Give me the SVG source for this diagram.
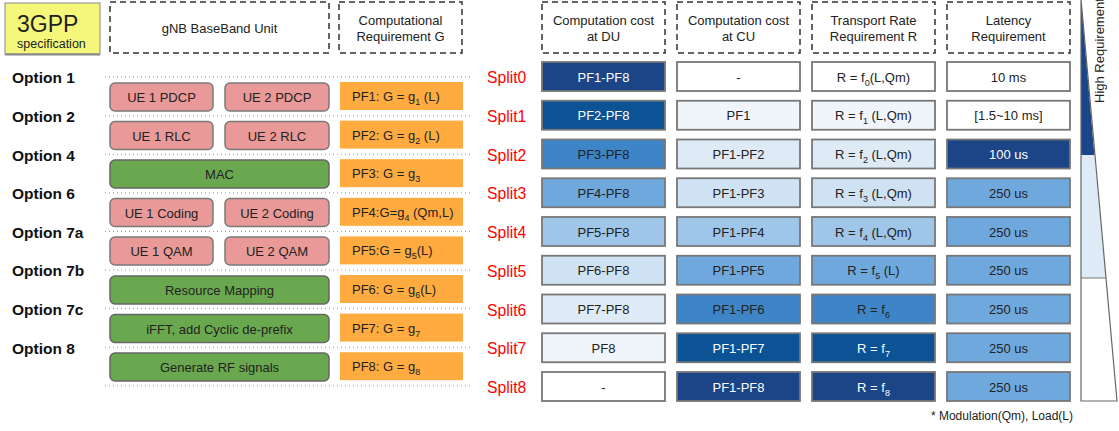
<svg xmlns="http://www.w3.org/2000/svg" width="1119" height="431" viewBox="0 0 1119 431">
<style>
text{font-family:"Liberation Sans",Arial,sans-serif;fill:#222}
.hdr{fill:none;stroke:#333;stroke-width:1.5;stroke-dasharray:6 4}
.h13{font-size:13px;text-anchor:middle}
.opt{font-size:15.5px;font-weight:bold;fill:#111}
.split{font-size:15.7px;fill:#ff0000}
.pink{fill:#ea9999;stroke:#7a7a7a;stroke-width:1.5}
.green{fill:#6aa84f;stroke:#666;stroke-width:1.5}
.pf{fill:#ffab40}
.cell{stroke:#777;stroke-width:1.8}
.bt{font-size:13px;text-anchor:middle}
.pft{font-size:13px}
.w{fill:#fff}
.dot{stroke:#999;stroke-width:1;stroke-dasharray:1 3}
.c0{fill:#ffffff}.c1{fill:#eff5fb}.c2{fill:#deebf7}.c3{fill:#cfe2f3}.c4{fill:#9fc5e8}.c5{fill:#6fa8dc}.c6{fill:#3d85c6}.c7{fill:#0b5394}.c8{fill:#1c4587}
</style>

<g id="spec">
<rect x="5" y="3" width="95" height="51" fill="#f5f77b" stroke="#9a9a9a" stroke-width="1.2"/>
<line x1="5" y1="54.5" x2="100" y2="54.5" stroke="#888" stroke-width="2"/>
<text x="17" y="32" font-size="23">3GPP</text>
<text x="17" y="48" font-size="12.5">specification</text>
</g>

<g id="headers">
<rect class="hdr" x="110" y="2" width="219" height="51"/>
<text class="h13" x="219.5" y="33">gNB BaseBand Unit</text>
<rect class="hdr" x="339" y="2" width="123" height="51"/>
<text class="h13" x="400.5" y="25">Computational</text>
<text class="h13" x="400.5" y="41">Requirement G</text>
<rect class="hdr" x="542" y="2" width="123" height="51"/>
<text class="h13" x="603.5" y="25">Computation cost</text>
<text class="h13" x="603.5" y="41">at DU</text>
<rect class="hdr" x="677" y="2" width="123" height="51"/>
<text class="h13" x="738.5" y="25">Computation cost</text>
<text class="h13" x="738.5" y="41">at CU</text>
<rect class="hdr" x="812" y="2" width="123" height="51"/>
<text class="h13" x="873.5" y="25">Transport Rate</text>
<text class="h13" x="873.5" y="41">Requirement R</text>
<rect class="hdr" x="947" y="2" width="123" height="51"/>
<text class="h13" x="1008.5" y="25">Latency</text>
<text class="h13" x="1008.5" y="41">Requirement</text>
</g>

<g id="separators">
<line class="dot" x1="105" y1="77" x2="472" y2="77"/>
<line class="dot" x1="105" y1="115.6" x2="472" y2="115.6"/>
<line class="dot" x1="105" y1="154.2" x2="472" y2="154.2"/>
<line class="dot" x1="105" y1="192.8" x2="472" y2="192.8"/>
<line class="dot" x1="105" y1="231.4" x2="472" y2="231.4"/>
<line class="dot" x1="105" y1="270" x2="472" y2="270"/>
<line class="dot" x1="105" y1="308.6" x2="472" y2="308.6"/>
<line class="dot" x1="105" y1="347.2" x2="472" y2="347.2"/>
<line class="dot" x1="105" y1="385.8" x2="472" y2="385.8"/>
</g>

<g id="options">
<text class="opt" x="12" y="83.3">Option 1</text>
<text class="opt" x="12" y="121.9">Option 2</text>
<text class="opt" x="12" y="160.5">Option 4</text>
<text class="opt" x="12" y="199.1">Option 6</text>
<text class="opt" x="12" y="237.7">Option 7a</text>
<text class="opt" x="12" y="276.3">Option 7b</text>
<text class="opt" x="12" y="314.9">Option 7c</text>
<text class="opt" x="12" y="353.5">Option 8</text>
</g>

<g id="bbu">
<g id="ue1-pdcp"><rect class="pink" x="110" y="83" width="103" height="28" rx="5"/><text class="bt" x="161.5" y="102">UE 1 PDCP</text></g>
<g id="ue2-pdcp"><rect class="pink" x="225" y="83" width="104" height="28" rx="5"/><text class="bt" x="277" y="102">UE 2 PDCP</text></g>
<g id="ue1-rlc"><rect class="pink" x="110" y="121.5" width="103" height="28" rx="5"/><text class="bt" x="161.5" y="140.5">UE 1 RLC</text></g>
<g id="ue2-rlc"><rect class="pink" x="225" y="121.5" width="104" height="28" rx="5"/><text class="bt" x="277" y="140.5">UE 2 RLC</text></g>
<g id="mac"><rect class="green" x="110" y="160" width="219" height="28" rx="5"/><text class="bt" x="219.5" y="179">MAC</text></g>
<g id="ue1-coding"><rect class="pink" x="110" y="198.5" width="103" height="28" rx="5"/><text class="bt" x="161.5" y="217.5">UE 1 Coding</text></g>
<g id="ue2-coding"><rect class="pink" x="225" y="198.5" width="104" height="28" rx="5"/><text class="bt" x="277" y="217.5">UE 2 Coding</text></g>
<g id="ue1-qam"><rect class="pink" x="110" y="237" width="103" height="28" rx="5"/><text class="bt" x="161.5" y="256">UE 1 QAM</text></g>
<g id="ue2-qam"><rect class="pink" x="225" y="237" width="104" height="28" rx="5"/><text class="bt" x="277" y="256">UE 2 QAM</text></g>
<g id="resource-mapping"><rect class="green" x="110" y="276" width="219" height="28" rx="5"/><text class="bt" x="219.5" y="295">Resource Mapping</text></g>
<g id="ifft"><rect class="green" x="110" y="314.5" width="219" height="28" rx="5"/><text class="bt" x="219.5" y="333.5">iFFT, add Cyclic de-prefix</text></g>
<g id="rf"><rect class="green" x="110" y="353" width="219" height="28" rx="5"/><text class="bt" x="219.5" y="372">Generate RF signals</text></g>
</g>

<g id="pf">
<g id="pf1"><rect class="pf" x="340" y="82" width="123" height="28"/><text class="pft" x="352" y="101">PF1: G = g<tspan font-size="9" dy="4">1</tspan><tspan dy="-4"> (L)</tspan></text></g>
<g id="pf2"><rect class="pf" x="340" y="120.6" width="123" height="28"/><text class="pft" x="352" y="139.6">PF2: G = g<tspan font-size="9" dy="4">2</tspan><tspan dy="-4"> (L)</tspan></text></g>
<g id="pf3"><rect class="pf" x="340" y="159.2" width="123" height="28"/><text class="pft" x="352" y="178.2">PF3: G = g<tspan font-size="9" dy="4">3</tspan></text></g>
<g id="pf4"><rect class="pf" x="340" y="197.8" width="123" height="28"/><text class="pft" x="352" y="216.8">PF4:G=g<tspan font-size="9" dy="4">4</tspan><tspan dy="-4"> (Qm,L)</tspan></text></g>
<g id="pf5"><rect class="pf" x="340" y="236.4" width="123" height="28"/><text class="pft" x="352" y="255.4">PF5:G = g<tspan font-size="9" dy="4">5</tspan><tspan dy="-4">(L)</tspan></text></g>
<g id="pf6"><rect class="pf" x="340" y="275" width="123" height="28"/><text class="pft" x="352" y="294">PF6: G = g<tspan font-size="9" dy="4">6</tspan><tspan dy="-4">(L)</tspan></text></g>
<g id="pf7"><rect class="pf" x="340" y="313.6" width="123" height="28"/><text class="pft" x="352" y="332.6">PF7: G = g<tspan font-size="9" dy="4">7</tspan></text></g>
<g id="pf8"><rect class="pf" x="340" y="352.2" width="123" height="28"/><text class="pft" x="352" y="371.2">PF8: G = g<tspan font-size="9" dy="4">8</tspan></text></g>
</g>

<g id="splits">
<text class="split" x="487" y="83">Split0</text>
<text class="split" x="487" y="121.75">Split1</text>
<text class="split" x="487" y="160.5">Split2</text>
<text class="split" x="487" y="199.25">Split3</text>
<text class="split" x="487" y="238">Split4</text>
<text class="split" x="487" y="276.75">Split5</text>
<text class="split" x="487" y="315.5">Split6</text>
<text class="split" x="487" y="354.25">Split7</text>
<text class="split" x="487" y="393">Split8</text>
</g>

<g id="du">
<rect class="cell c8" x="542" y="62" width="123" height="29"/><text class="bt w" x="603.5" y="81.5">PF1-PF8</text>
<rect class="cell c7" x="542" y="100.75" width="123" height="29"/><text class="bt w" x="603.5" y="120.25">PF2-PF8</text>
<rect class="cell c6" x="542" y="139.5" width="123" height="29"/><text class="bt" x="603.5" y="159">PF3-PF8</text>
<rect class="cell c5" x="542" y="178.25" width="123" height="29"/><text class="bt" x="603.5" y="197.75">PF4-PF8</text>
<rect class="cell c4" x="542" y="217" width="123" height="29"/><text class="bt" x="603.5" y="236.5">PF5-PF8</text>
<rect class="cell c3" x="542" y="255.75" width="123" height="29"/><text class="bt" x="603.5" y="275.25">PF6-PF8</text>
<rect class="cell c2" x="542" y="294.5" width="123" height="29"/><text class="bt" x="603.5" y="314">PF7-PF8</text>
<rect class="cell c1" x="542" y="333.25" width="123" height="29"/><text class="bt" x="603.5" y="352.75">PF8</text>
<rect class="cell c0" x="542" y="372" width="123" height="29"/><text class="bt" x="603.5" y="391.5">-</text>
</g>

<g id="cu">
<rect class="cell c0" x="677" y="62" width="123" height="29"/><text class="bt" x="738.5" y="81.5">-</text>
<rect class="cell c1" x="677" y="100.75" width="123" height="29"/><text class="bt" x="738.5" y="120.25">PF1</text>
<rect class="cell c2" x="677" y="139.5" width="123" height="29"/><text class="bt" x="738.5" y="159">PF1-PF2</text>
<rect class="cell c3" x="677" y="178.25" width="123" height="29"/><text class="bt" x="738.5" y="197.75">PF1-PF3</text>
<rect class="cell c4" x="677" y="217" width="123" height="29"/><text class="bt" x="738.5" y="236.5">PF1-PF4</text>
<rect class="cell c5" x="677" y="255.75" width="123" height="29"/><text class="bt" x="738.5" y="275.25">PF1-PF5</text>
<rect class="cell c6" x="677" y="294.5" width="123" height="29"/><text class="bt" x="738.5" y="314">PF1-PF6</text>
<rect class="cell c7" x="677" y="333.25" width="123" height="29"/><text class="bt w" x="738.5" y="352.75">PF1-PF7</text>
<rect class="cell c8" x="677" y="372" width="123" height="29"/><text class="bt w" x="738.5" y="391.5">PF1-PF8</text>
</g>

<g id="transport">
<rect class="cell c0" x="812" y="62" width="123" height="29"/><text class="bt" x="873.5" y="81.5">R = f<tspan font-size="9" dy="4">0</tspan><tspan dy="-4">(L,Qm)</tspan></text>
<rect class="cell c1" x="812" y="100.75" width="123" height="29"/><text class="bt" x="873.5" y="120.25">R = f<tspan font-size="9" dy="4">1</tspan><tspan dy="-4"> (L,Qm)</tspan></text>
<rect class="cell c2" x="812" y="139.5" width="123" height="29"/><text class="bt" x="873.5" y="159">R = f<tspan font-size="9" dy="4">2</tspan><tspan dy="-4"> (L,Qm)</tspan></text>
<rect class="cell c3" x="812" y="178.25" width="123" height="29"/><text class="bt" x="873.5" y="197.75">R = f<tspan font-size="9" dy="4">3</tspan><tspan dy="-4"> (L,Qm)</tspan></text>
<rect class="cell c4" x="812" y="217" width="123" height="29"/><text class="bt" x="873.5" y="236.5">R = f<tspan font-size="9" dy="4">4</tspan><tspan dy="-4"> (L,Qm)</tspan></text>
<rect class="cell c5" x="812" y="255.75" width="123" height="29"/><text class="bt" x="873.5" y="275.25">R = f<tspan font-size="9" dy="4">5</tspan><tspan dy="-4"> (L)</tspan></text>
<rect class="cell c6" x="812" y="294.5" width="123" height="29"/><text class="bt" x="873.5" y="314">R = f<tspan font-size="9" dy="4">6</tspan></text>
<rect class="cell c7" x="812" y="333.25" width="123" height="29"/><text class="bt w" x="873.5" y="352.75">R = f<tspan font-size="9" dy="4">7</tspan></text>
<rect class="cell c8" x="812" y="372" width="123" height="29"/><text class="bt w" x="873.5" y="391.5">R = f<tspan font-size="9" dy="4">8</tspan></text>
</g>

<g id="latency">
<rect class="cell c0" x="947" y="62" width="123" height="29"/><text class="bt" x="1008.5" y="81.5">10 ms</text>
<rect class="cell c0" x="947" y="100.75" width="123" height="29"/><text class="bt" x="1008.5" y="120.25">[1.5~10 ms]</text>
<rect class="cell c8" x="947" y="139.5" width="123" height="29"/><text class="bt w" x="1008.5" y="159">100 us</text>
<rect class="cell c5" x="947" y="178.25" width="123" height="29"/><text class="bt" x="1008.5" y="197.75">250 us</text>
<rect class="cell c5" x="947" y="217" width="123" height="29"/><text class="bt" x="1008.5" y="236.5">250 us</text>
<rect class="cell c5" x="947" y="255.75" width="123" height="29"/><text class="bt" x="1008.5" y="275.25">250 us</text>
<rect class="cell c5" x="947" y="294.5" width="123" height="29"/><text class="bt" x="1008.5" y="314">250 us</text>
<rect class="cell c5" x="947" y="333.25" width="123" height="29"/><text class="bt" x="1008.5" y="352.75">250 us</text>
<rect class="cell c5" x="947" y="372" width="123" height="29"/><text class="bt" x="1008.5" y="391.5">250 us</text>
</g>

<g id="requirement-wedge">
<polygon points="1081,0 1094.4,155 1081,155" fill="#1c4587"/>
<polygon points="1081,155 1094.4,155 1105.7,278 1081,278" fill="#deebf7"/>
<polygon points="1081,278 1105.7,278 1117,401 1081,401" fill="#ffffff"/>
<line x1="1081" y1="278" x2="1105.7" y2="278" stroke="#777" stroke-width="1"/>
<polygon points="1081,-1 1117,401 1081,401" fill="none" stroke="#666" stroke-width="1.2"/>
<text transform="translate(1104,103) rotate(-90)" font-size="13">High Requirement</text>
</g>

<text id="footnote" x="1073" y="420" font-size="12" text-anchor="end">* Modulation(Qm), Load(L)</text>
</svg>
